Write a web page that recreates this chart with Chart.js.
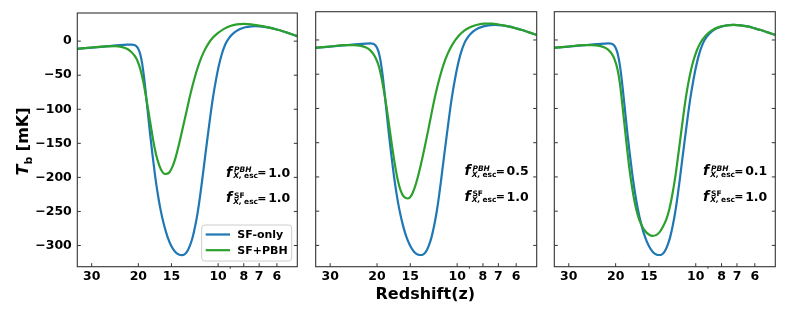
<!DOCTYPE html>
<html>
<head>
<meta charset="utf-8">
<script src="https://cdn.jsdelivr.net/npm/chart.js@4.4.1/dist/chart.umd.min.js"></script>
<style>
  body { margin: 0; background: #fff; }
  #wrap { position: relative; width: 793px; height: 317px; }
  canvas { position: absolute; top: 0; }
</style>
</head>
<body>
<div id="wrap">
  <canvas id="c1" width="300" height="317" style="left:0px"></canvas>
  <canvas id="c2" width="245" height="317" style="left:300px"></canvas>
  <canvas id="c3" width="253" height="317" style="left:540px"></canvas>
</div>
<script>
// tick values
const zTicks = [30, 20, 15, 10, 8, 7, 6];
const zMinor = [9];
const tTicks = [0, -50, -100, -150, -200, -250, -300];

// escape fractions shown in each panel
const fPBH = ['1.0', '0.5', '0.1'];
const fSF = ['1.0', '1.0', '1.0'];

// SF-only (same in all panels)
const sfZ = [34, 30, 26, 23.5, 22, 21.2, 20.7, 20.3, 19.95, 19.65, 19.35, 19.05, 18.75, 18.45, 18.1, 17.7, 17.3, 16.9, 16.5, 16.0, 15.5, 15.0, 14.5, 14.0, 13.7, 13.4, 13.1, 12.8, 12.5, 12.2, 11.95, 11.7, 11.45, 11.2, 10.95, 10.7, 10.45, 10.2, 9.95, 9.7, 9.4, 9.1, 8.7, 8.3, 7.9, 7.5, 7.2, 6.8, 6.4, 6.0, 5.7, 5.4, 5.025];
const sfT = [-11.3, -9.6, -7.4, -5.9, -5.2, -5.0, -5.6, -7.8, -12.5, -20, -33, -52, -76, -102, -133, -166, -197, -224, -247, -270, -288, -301, -309.5, -313.5, -314, -313, -309, -301, -289, -271, -252, -228, -200, -170, -140, -110, -82, -58, -37, -20, -5, 4.5, 12.5, 17.5, 20.3, 21.7, 22, 21.4, 19.8, 17, 14.5, 11.5, 7.3];

// SF+PBH, f_PBH = 1.0
const pbh10Z = [34, 30, 26.5, 24.5, 23, 22, 21.3, 20.7, 20.2, 19.7, 19.2, 18.75, 18.3, 17.85, 17.4, 16.95, 16.45, 15.85, 15.3, 14.9, 14.5, 14.1, 13.7, 13.3, 12.9, 12.5, 12.1, 11.7, 11.3, 10.9, 10.5, 10.0, 9.5, 9.0, 8.5, 8.0, 7.5, 7.0, 6.5, 6.0, 5.7, 5.4, 5.025];
const pbh10T = [-11.2, -9.3, -7.6, -7.4, -8.8, -11.5, -15.5, -21, -28, -40, -58, -80, -104, -130, -155, -174, -188, -195, -193, -185, -172, -154, -133, -111, -88, -66, -46, -29, -15, -4, 4.5, 12, 18, 22.3, 24.6, 25.3, 24.7, 22.8, 20.3, 17, 14.5, 11.5, 7.3];

// SF+PBH, f_PBH = 0.5
const pbh05Z = [34, 30, 26.5, 24.5, 23, 22, 21.3, 20.7, 20.2, 19.7, 19.2, 18.7, 18.2, 17.7, 17.2, 16.75, 16.3, 15.85, 15.3, 14.85, 14.45, 14.05, 13.65, 13.25, 12.85, 12.45, 12.05, 11.65, 11.25, 10.85, 10.4, 9.9, 9.4, 8.9, 8.4, 7.9, 7.4, 7.0, 6.5, 6.0, 5.7, 5.4, 5.025];
const pbh05T = [-11.5, -9.5, -7.6, -7.4, -8.6, -11, -14.5, -20, -27, -38, -57, -82, -112, -146, -178, -203, -220, -229, -231.5, -227, -216, -200, -180, -157, -132, -105, -79, -56, -36, -20, -6, 5.5, 13.5, 18.8, 22.3, 24, 24, 22.6, 20.3, 17, 14.5, 11.5, 7.3];

// SF+PBH, f_PBH = 0.1
const pbh01Z = [34, 30, 26.5, 24.5, 23, 22, 21.3, 20.7, 20.2, 19.7, 19.3, 18.9, 18.5, 18.1, 17.7, 17.3, 16.9, 16.45, 16.0, 15.5, 15.0, 14.5, 14.1, 13.7, 13.3, 12.9, 12.55, 12.25, 11.95, 11.7, 11.45, 11.2, 10.95, 10.7, 10.45, 10.2, 9.9, 9.6, 9.2, 8.7, 8.2, 7.7, 7.2, 6.8, 6.4, 6.0, 5.7, 5.4, 5.025];
const pbh01T = [-11.5, -9.5, -7.6, -7.4, -8.6, -11, -14.5, -20, -28, -42, -62, -92, -126, -160, -192, -218, -240, -258, -270, -279, -284, -286, -285, -281, -273, -262, -246, -226, -201, -175, -147, -118, -90, -66, -46, -30, -15, -4, 6, 14, 18.8, 21.2, 22, 21.4, 19.8, 17, 14.5, 11.5, 7.3];

const BLUE = '#1f77b4';
const GREEN = '#2ca02c';
const SPINE = '#333333';
const FONT = '"DejaVu Sans"';

const pts = (zs, ts) => zs.map((z, i) => ({ x: z, y: ts[i] }));
const minusFmt = v => (v < 0 ? '\u2212' + Math.abs(v) : String(v));

// matplotlib-style box with inward ticks
const frame = {
  id: 'frame',
  afterDraw(chart) {
    const { ctx, chartArea: a, scales: { x, y } } = chart;
    ctx.save();
    ctx.strokeStyle = SPINE;
    ctx.lineWidth = 1;
    ctx.beginPath();
    tTicks.forEach(v => {
      const py = y.getPixelForValue(v);
      ctx.moveTo(a.left, py); ctx.lineTo(a.left + 3.5, py);
      ctx.moveTo(a.right, py); ctx.lineTo(a.right - 3.5, py);
    });
    zTicks.forEach(v => {
      const px = x.getPixelForValue(v);
      ctx.moveTo(px, a.bottom); ctx.lineTo(px, a.bottom - 3.5);
    });
    zMinor.forEach(v => {
      const px = x.getPixelForValue(v);
      ctx.moveTo(px, a.bottom); ctx.lineTo(px, a.bottom + 2);
    });
    ctx.stroke();
    ctx.lineWidth = 1.1;
    ctx.strokeRect(a.left, a.top, a.right - a.left, a.bottom - a.top);
    ctx.restore();
  }
};

// f^{sup}_{X,esc} = val, laid out like matplotlib mathtext
function drawFrac(ctx, x, y, sup, supItalic, val) {
  ctx.fillStyle = '#000';
  ctx.textAlign = 'left';
  ctx.textBaseline = 'alphabetic';
  ctx.font = `italic bold 14px ${FONT}`;
  ctx.fillText('f', x, y);
  ctx.font = `${supItalic ? 'italic ' : ''}bold 7.5px ${FONT}`;
  ctx.fillText(sup, x + 8, y - 4.5);
  ctx.font = `italic bold 7.5px ${FONT}`;
  ctx.fillText('X,', x + 7.3, y + 1.5);
  const w = ctx.measureText('X, ').width;
  ctx.font = `bold 7.5px ${FONT}`;
  ctx.fillText('esc', x + 7.3 + w - 0.5, y + 1.5);
  ctx.font = `bold 11px ${FONT}`;
  ctx.fillText('=', x + 31.3, y - 0.5);
  ctx.font = `bold 12.5px ${FONT}`;
  ctx.textAlign = 'right';
  ctx.fillText(val, x + 64.3, y);
}

function notes(idx) {
  return {
    id: 'notes' + idx,
    afterDatasetsDraw(chart) {
      const { ctx, chartArea: a } = chart;
      ctx.save();
      drawFrac(ctx, a.left + 148.7, a.top + 163.6, 'PBH', true, fPBH[idx]);
      drawFrac(ctx, a.left + 148.7, a.top + 189, 'SF', false, fSF[idx]);
      ctx.restore();
    }
  };
}

const legendBox = {
  id: 'legendBox',
  afterDraw(chart) {
    const { ctx, chartArea: a } = chart;
    const w = 90, h = 36;
    const x = a.right - 5.6 - w, y = a.bottom - 5.7 - h;
    ctx.save();
    ctx.beginPath();
    ctx.roundRect(x, y, w, h, 3);
    ctx.fillStyle = 'rgba(255,255,255,0.8)';
    ctx.fill();
    ctx.strokeStyle = '#cccccc';
    ctx.lineWidth = 1;
    ctx.stroke();
    [0, 1].forEach(i => {
      const ds = chart.data.datasets[i];
      const ly = y + 9.5 + i * 15.7;
      ctx.strokeStyle = ds.borderColor;
      ctx.lineWidth = 2.2;
      ctx.beginPath();
      ctx.moveTo(x + 4, ly); ctx.lineTo(x + 28.3, ly);
      ctx.stroke();
      ctx.fillStyle = '#000';
      ctx.font = `bold 11px ${FONT}`;
      ctx.textBaseline = 'middle';
      ctx.textAlign = 'left';
      ctx.fillText(ds.label, x + 35.6, ly + 0.5);
    });
    ctx.restore();
  }
};

const yTitle = {
  id: 'yTitle',
  afterDraw(chart) {
    const ctx = chart.ctx;
    ctx.save();
    ctx.translate(28, 141.5);
    ctx.rotate(-Math.PI / 2);
    ctx.fillStyle = '#000';
    ctx.textBaseline = 'alphabetic';
    ctx.textAlign = 'left';
    const fT = `italic bold 16px ${FONT}`, fb = `bold 11px ${FONT}`, fr = `bold 16px ${FONT}`;
    ctx.font = fT; const wT = ctx.measureText('T').width;
    ctx.font = fb; const wb = ctx.measureText('b').width;
    ctx.font = fr; const wr = ctx.measureText(' [mK]').width;
    const x0 = -(wT + wb + wr) / 2;
    ctx.font = fT; ctx.fillText('T', x0, 0);
    ctx.font = fb; ctx.fillText('b', x0 + wT, 3.5);
    ctx.font = fr; ctx.fillText(' [mK]', x0 + wT + wb, 0);
    ctx.restore();
  }
};

const xTitle = {
  id: 'xTitle',
  afterDraw(chart) {
    const { ctx, chartArea: a } = chart;
    ctx.save();
    ctx.fillStyle = '#000';
    ctx.font = `bold 16px ${FONT}`;
    ctx.textAlign = 'center';
    ctx.textBaseline = 'alphabetic';
    ctx.fillText('Redshift(z)', (a.left + a.right) / 2 - 0.9, 298.5);
    ctx.restore();
  }
};

function makePanel(id, idx, gZ, gT, yWidth, padRight, extra) {
  const showY = idx === 0;
  return new Chart(document.getElementById(id), {
    type: 'line',
    data: {
      datasets: [
        { label: 'SF-only', data: pts(sfZ, sfT), borderColor: BLUE, order: 1 },
        { label: 'SF+PBH', data: pts(gZ, gT), borderColor: GREEN, order: 0 }
      ]
    },
    options: {
      responsive: false,
      animation: false,
      devicePixelRatio: 1,
      layout: { padding: { top: 11.7, left: 0, right: padRight, bottom: 0 } },
      elements: {
        point: { radius: 0 },
        line: { borderWidth: 2.2, cubicInterpolationMode: 'monotone', fill: false }
      },
      plugins: { legend: { display: false }, tooltip: { enabled: false } },
      scales: {
        x: {
          type: 'logarithmic',
          reverse: true,
          bounds: 'data',
          min: 5.025,
          max: 34,
          afterBuildTicks: s => { s.ticks = zTicks.map(v => ({ value: v })); },
          afterFit: s => { s.height = 50.3; },
          grid: { display: false, drawTicks: false },
          border: { display: false },
          ticks: {
            autoSkip: false, maxRotation: 0, padding: 3, color: '#000',
            font: { family: 'DejaVu Sans', size: 12.5, weight: 'bold' },
            callback: v => String(v)
          }
        },
        y: {
          min: -331.1,
          max: 41.3,
          afterBuildTicks: s => { s.ticks = tTicks.map(v => ({ value: v })); },
          afterFit: s => { s.width = yWidth; },
          grid: { display: false, drawTicks: false },
          border: { display: false },
          ticks: {
            display: showY, padding: 5.5, color: '#000',
            font: { family: 'DejaVu Sans', size: 12.5, weight: 'bold' },
            callback: v => minusFmt(v)
          }
        }
      }
    },
    plugins: [notes(idx), frame].concat(extra)
  });
}

makePanel('c1', 0, pbh10Z, pbh10T, 77.3, 2.7, [legendBox, yTitle]);
makePanel('c2', 1, pbh05Z, pbh05T, 15.7, 8.3, [xTitle]);
makePanel('c3', 2, pbh01Z, pbh01T, 14.3, 17.7, []);
</script>
</body>
</html>
